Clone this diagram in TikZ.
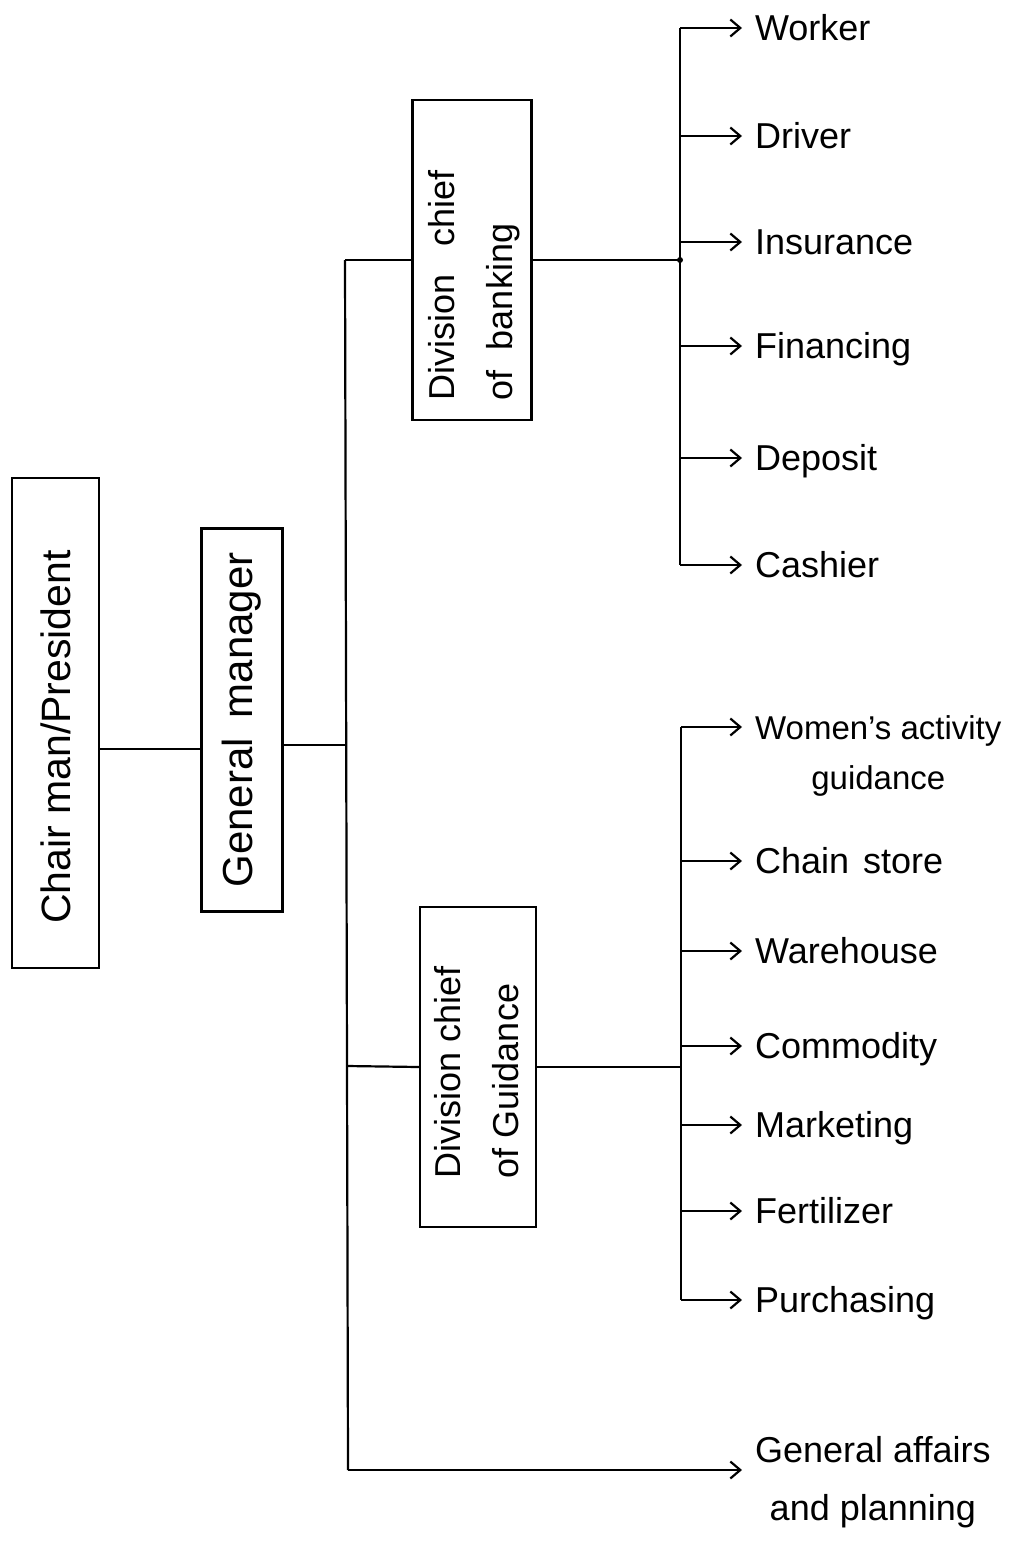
\documentclass[tikz,border=0pt]{standalone}
\usepackage{fontspec}
\setmainfont{Liberation Sans}
\usetikzlibrary{arrows.meta}
\begin{document}
\begin{tikzpicture}[x=1pt,y=-1pt,line width=2.2pt,
  box/.style={draw,rectangle,inner sep=0pt,line width=2.4pt},
  bigtext/.style={font=\fontsize{41}{48}\selectfont},
  divtext/.style={font=\fontsize{36}{58}\selectfont},
  leaf/.style={anchor=west,inner sep=0pt,text height=25pt,text depth=0pt,font=\fontsize{36}{50}\selectfont},
  arr/.style={-{Straight Barb[length=10pt,width=17pt,line width=2.2pt]},shorten >=12pt}]
\useasboundingbox (0,0) rectangle (1016,1549);
% boxes
\node[box,bigtext,minimum width=87pt,minimum height=490pt] (chair) at (55.5,723) {\rotatebox{90}{Chair man/President\hspace{28pt}}};
\node[box,font=\fontsize{42}{48}\selectfont,minimum width=81pt,minimum height=383pt] (gm) at (242,720) {\rotatebox{90}{General\hspace{20pt}manager}};
\node[box,divtext,minimum width=119pt,minimum height=320pt] (bank) at (472,260) {\rotatebox{90}{\begin{tabular}{@{}l@{}}Division\hspace{28pt}chief\hspace{50pt}\null\\of\hspace{20pt}banking\end{tabular}}};
\node[box,divtext,minimum width=115pt,minimum height=320pt] (guid) at (478,1067) {\rotatebox{90}{\begin{tabular}{@{}l@{}}Division chief\hspace{10pt}\null\\of Guidance\end{tabular}}};
% coordinates
\coordinate (cg) at (0,749);
\coordinate (gt) at (345,745);
\coordinate (tTop) at (345,260);
\coordinate (tG) at (347,1066);
\coordinate (tBot) at (348,1470);
\coordinate (bx) at (680,0);
\coordinate (gx) at (681,0);
% leaves banking
\node[leaf] (worker) at (754,28) {Worker};
\node[leaf] (driver) at (754,136) {Driver};
\node[leaf] (insur) at (754,242) {Insurance};
\node[leaf] (finan) at (754,346) {Financing};
\node[leaf] (depos) at (754,458) {Deposit};
\node[leaf] (cash) at (754,565) {Cashier};
% leaves guidance
\node[leaf,font=\fontsize{33}{50}\selectfont] (women) at (754,727) {\begin{tabular}[t]{@{}c@{}}Women's activity\\guidance\end{tabular}};
\node[leaf] (chain) at (754,861) {Chain\hspace{14pt}store};
\node[leaf] (ware) at (754,951) {Warehouse};
\node[leaf] (commo) at (754,1046) {Commodity};
\node[leaf] (market) at (754,1125) {Marketing};
\node[leaf] (fert) at (754,1211) {Fertilizer};
\node[leaf] (purch) at (754,1300) {Purchasing};
\node[leaf] (ga) at (754,1450) {\begin{tabular}[t]{@{}c@{}}General affairs\\[8pt]and planning\end{tabular}};
% connectors
\draw (chair.east |- cg) -- (gm.west |- cg);
\draw (gm.east |- gt) -- (gt);
\draw (tTop) -- (tBot);
\draw (tTop) -- (bank.west);
\draw (tG) -- (guid.west);
\draw[arr] (tBot) -- (tBot -| ga.west);
\draw (bank.east) -- (bank.east -| bx);
\fill (bank.east -| bx) circle (3pt);
\draw (guid.east) -- (guid.east -| gx);
\draw (worker.west -| bx) -- (cash.west -| bx);
\draw (women.west -| gx) -- (purch.west -| gx);
\foreach \n in {worker,driver,insur,finan,depos,cash}
  \draw[arr] (\n.west -| bx) -- (\n.west);
\foreach \n in {women,chain,ware,commo,market,fert,purch}
  \draw[arr] (\n.west -| gx) -- (\n.west);
\end{tikzpicture}
\end{document}
